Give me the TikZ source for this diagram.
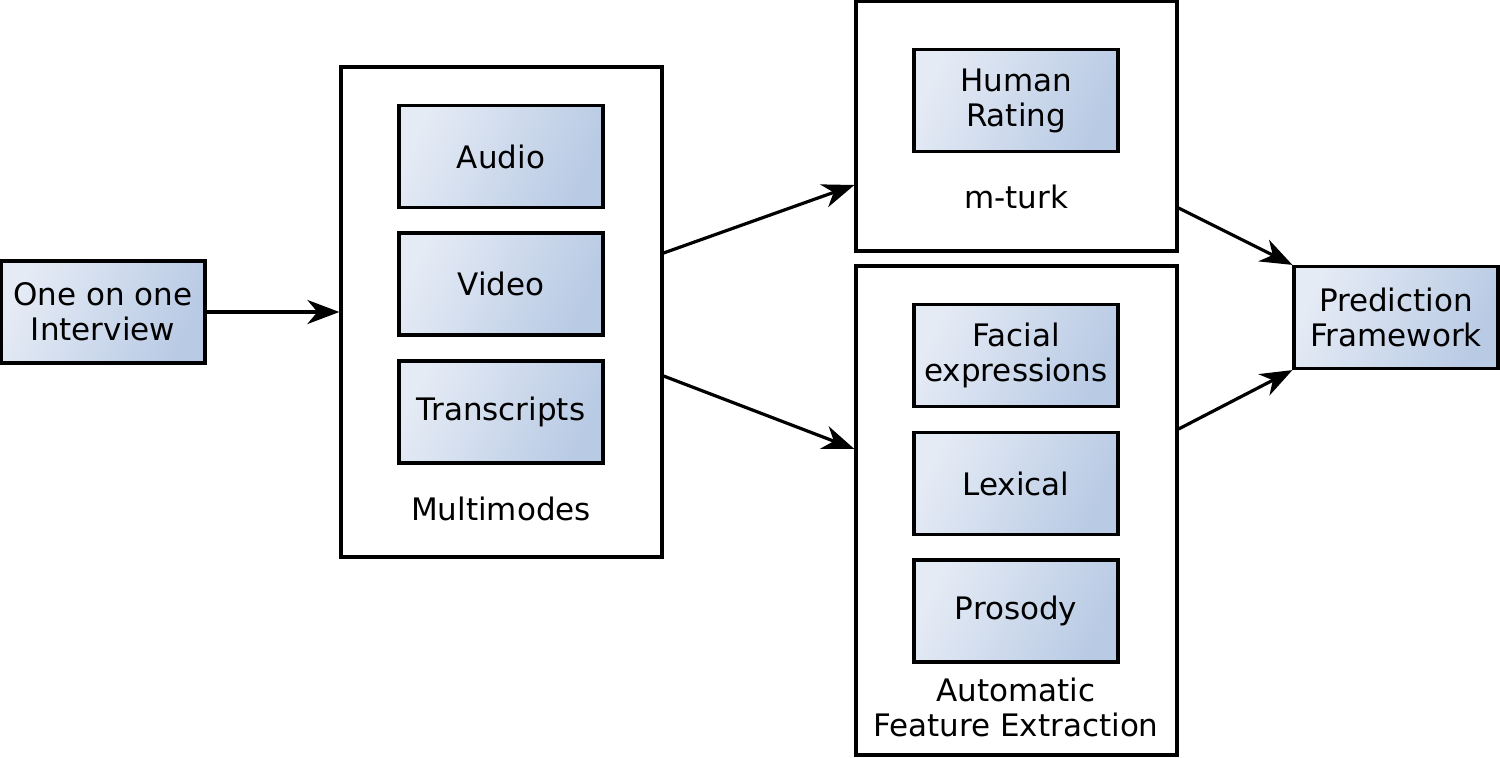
\documentclass[tikz,border=0pt]{standalone}
\usepackage{fontspec}
\setmainfont{DejaVu Sans}
\usetikzlibrary{arrows.meta}
\definecolor{gA}{HTML}{E5EBF5}
\definecolor{gB}{HTML}{B8CAE4}
\tikzset{
  inner/.style={draw=black, line width=3.2pt, top color=gA, bottom color=gB, shading angle=65,
    minimum width=204pt, minimum height=102pt, inner sep=0pt, align=center,
    font=\fontsize{31}{35}\selectfont},
  outer/.style={draw=black, line width=3.2pt, fill=white, inner sep=0pt},
  lbl/.style={inner sep=0pt, align=center, font=\fontsize{31}{35}\selectfont},
  conn/.style={line width=3.2pt, -{Stealth[length=32pt,width=24pt,inset=10pt]}}
}
\begin{document}
\begin{tikzpicture}[x=1pt,y=-1pt]
\useasboundingbox (0,0) rectangle (1500,758);
% outer containers
\node[outer, minimum width=321pt, minimum height=490pt] (mm) at (501.5,312) {};
\node[outer, minimum width=321pt, minimum height=250pt] (mt) at (1016.5,126) {};
\node[outer, minimum width=321pt, minimum height=489pt] (af) at (1016.5,510.5) {};
% inner boxes
\node[inner] (iv) at (103,312) {One on one\\Interview};
\node[inner] (au) at (501,156.5) {Audio};
\node[inner] (vi) at (501,284) {Video};
\node[inner] (tr) at (501,412) {Transcripts};
\node[inner] (hr) at (1016,100.5) {Human\\Rating};
\node[inner] (fe) at (1016,355.5) {Facial\\expressions};
\node[inner] (lx) at (1016,483.5) {Lexical};
\node[inner] (pr) at (1016,611) {Prosody};
\node[inner] (pf) at (1396,317.5) {Prediction\\Framework};
% labels
\node[lbl] (mml) at (501,509) {Multimodes};
\node[lbl] (mtl) at (1016,197) {m-turk};
\node[lbl] (afl) at (1016,707) {Automatic\\Feature Extraction};
% connectors
\draw[conn] (iv.east) -- (mm.west);
\draw[conn] ([yshift=59pt]mm.east) -- ([yshift=-59pt]mt.west);
\draw[conn] ([yshift=-64pt]mm.east) -- ([yshift=61.5pt]af.west);
\draw[conn] ([yshift=-82pt]mt.east) -- (pf.north west);
\draw[conn] ([yshift=81.5pt]af.east) -- (pf.south west);
\end{tikzpicture}
\end{document}
